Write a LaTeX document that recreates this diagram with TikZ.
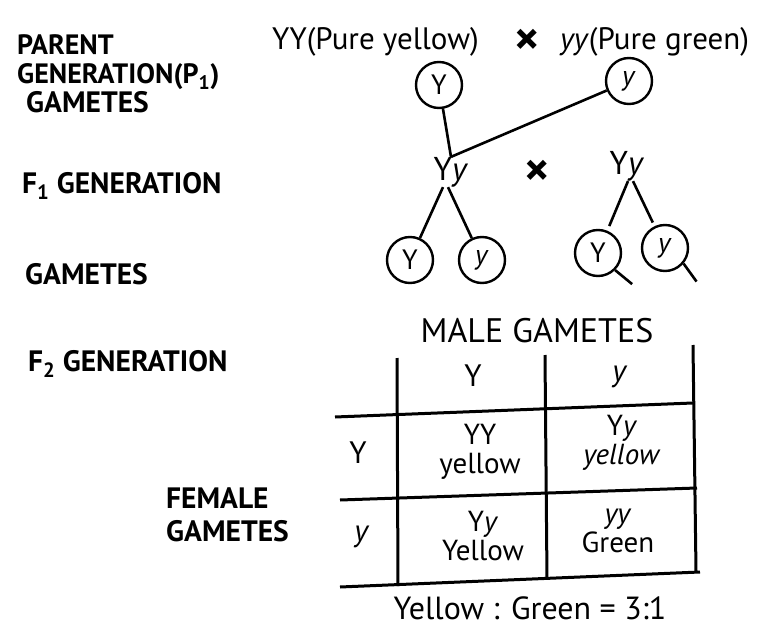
\documentclass[tikz,border=0pt]{standalone}
\usepackage{fontspec}
\setmainfont{PT Sans}
\begin{document}
\begin{tikzpicture}[x=1pt,y=-1pt,
  lbl/.style={font=\fontsize{29.5}{32}\selectfont\bfseries, anchor=base west, inner sep=0pt},
  hw/.style={font=\fontsize{31}{33}\selectfont, inner sep=1pt},
  hwcell/.style={font=\fontsize{29}{29}\selectfont, align=center, inner sep=0pt},
  cross/.style={font=\fontsize{48}{48}\selectfont\bfseries, inner sep=0pt},
  gam/.style={circle, draw, line width=2.4pt, minimum size=46pt, inner sep=0pt, font=\fontsize{28}{28}\selectfont},
  ln/.style={line width=2.6pt},
  tl/.style={line width=3pt}]
\useasboundingbox (0,0) rectangle (769,634);
% left labels
\node[lbl, font=\fontsize{28}{30}\selectfont\bfseries] (parent) at (17,55) {PARENT};
\node[lbl, font=\fontsize{28}{30}\selectfont\bfseries] (pgen) at (17,84) {GENERATION(P\textsubscript{1})};
\node[lbl] (pgam) at (26,113) {GAMETES};
\node[lbl] (f1lbl) at (22,193) {F\textsubscript{1} GENERATION};
\node[lbl] (g2lbl) at (25,284) {GAMETES};
\node[lbl] (f2lbl) at (28,371) {F\textsubscript{2} GENERATION};
\node[lbl] (female1) at (166,508) {FEMALE};
\node[lbl] (female2) at (166,541) {GAMETES};
% parents
\node[hw, anchor=base west] (p1) at (271,50) {YY(Pure yellow)};
\node[cross] (x1) at (527,42) {×};
\node[hw, anchor=base west] (p2) at (559,50) {\textit{yy}(Pure green)};
\node[gam] (gY) at (439,85) {Y};
\node[gam] (gy) at (629,81) {\textit{y}};
% F1
\node[hw, font=\fontsize{33}{33}\selectfont, inner sep=0pt] (f1a) at (451,172) {Y\textit{y}};
\node[cross] (x2) at (537,173) {×};
\node[hw, font=\fontsize{33}{33}\selectfont, inner sep=0pt] (f1b) at (627,166) {Y\textit{y}};
\draw[ln] (gY) -- (f1a.north);
\draw[ln] (gy) -- (f1a.north);
% gametes
\node[gam] (c1) at (410,260) {Y};
\node[gam] (c2) at (482,260) {\textit{y}};
\node[gam] (c3) at (598,253) {Y};
\node[gam] (c4) at (665,248) {\textit{y}};
\draw[ln] ([xshift=-8pt]f1a.south) -- (c1);
\draw[ln] ([xshift=-3pt]f1a.south) -- (c2);
\draw[ln, shorten >=5pt] ([xshift=1pt]f1b.south) -- (c3);
\draw[ln, shorten >=4pt] ([xshift=6pt]f1b.south) -- (c4);
\draw[ln] (c3.-45) -- ++(17,14) coordinate (t3);
\draw[ln] (c4.-40) -- ++(13,18) coordinate (t4);
% Punnett square
\node[hw, font=\fontsize{34}{34}\selectfont, inner sep=0pt] (male) at (537,331) {MALE GAMETES};
\draw[tl] (397,358) -- (398,586);
\draw[tl] (545,355) -- (547,579);
\draw[tl] (693,345) -- (696,571);
\draw[tl] (335,417) -- (693,403);
\draw[tl] (340,500) -- (697,488);
\draw[tl] (340,587) -- (700,572);
\node[hw] (hY) at (473,376) {Y};
\node[hw] (hy) at (620,377) {\textit{y}};
\node[hw] (rY) at (358,453) {Y};
\node[hw] (ry) at (362,537) {\textit{y}};
\node[hwcell] (c11) at (480,452) {YY\\yellow};
\node[hwcell] (c12) at (622,443) {Y\textit{y}\\\textit{yellow}};
\node[hwcell] (c21) at (483,536) {Y\textit{y}\\Yellow};
\node[hwcell] (c22) at (618,531) {\textit{yy}\\Green};
\node[hw, font=\fontsize{32}{32}\selectfont] (ratio) at (530,608) {Yellow : Green = 3:1};
\end{tikzpicture}
\end{document}
